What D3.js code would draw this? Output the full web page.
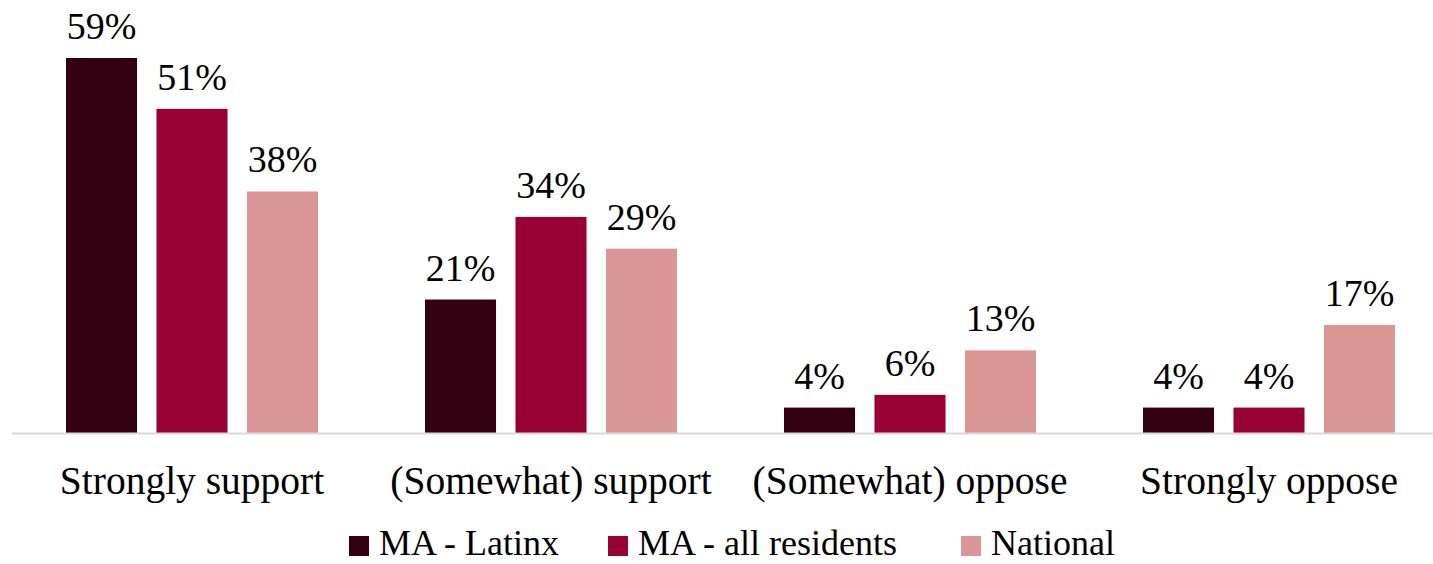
<!DOCTYPE html>
<html>
<head>
<meta charset="utf-8">
<script src="https://cdn.jsdelivr.net/npm/d3@7"></script>
<style>
  html, body { margin: 0; padding: 0; background: #fff; }
  svg { display: block; font-family: "Liberation Serif", serif; }
</style>
</head>
<body>
<svg id="chart" width="1433" height="564"></svg>
<script>
const categories = ["Strongly support", "(Somewhat) support", "(Somewhat) oppose", "Strongly oppose"];
const seriesNames = ["MA - Latinx", "MA - all residents", "National"];
const maLatinx = [59, 21, 4, 4];
const maAll = [51, 34, 6, 4];
const national = [38, 29, 13, 17];
const colors = ["#330012", "#990033", "#d99694"];

const seriesValues = [maLatinx, maAll, national];
const svg = d3.select("#chart");

const x0 = d3.scaleBand().domain(categories).range([12.5, 1448.5]).padding(0);
const groupW = 252;
const x1 = d3.scaleBand().domain(seriesNames).range([0, groupW]).paddingInner(0.215).paddingOuter(0);
const y = d3.scaleLinear().domain([0, 59]).range([433, 58]);

const groups = svg.selectAll("g.cat").data(categories).join("g")
  .attr("class", "cat")
  .attr("transform", d => `translate(${x0(d) + (x0.bandwidth() - groupW) / 2},0)`);

groups.each(function(cat, ci) {
  const g = d3.select(this);
  const rows = seriesNames.map((s, si) => ({ s, si, v: seriesValues[si][ci] }));
  g.selectAll("rect").data(rows).join("rect")
    .attr("x", d => x1(d.s))
    .attr("y", d => y(d.v))
    .attr("width", x1.bandwidth())
    .attr("height", d => y(0) - y(d.v))
    .attr("fill", d => colors[d.si]);
  g.selectAll("text.val").data(rows).join("text")
    .attr("class", "val")
    .attr("x", d => x1(d.s) + x1.bandwidth() / 2)
    .attr("y", d => y(d.v) - 19)
    .attr("text-anchor", "middle")
    .attr("font-size", 38)
    .attr("fill", "#000")
    .text(d => d.v + "%");
});

// category axis
const xAxis = d3.axisBottom(x0).tickSize(0).tickPadding(0);
const axisG = svg.append("g").attr("transform", `translate(0,${y(0)})`).call(xAxis);
axisG.select(".domain").remove();
axisG.selectAll("text")
  .attr("font-family", "Liberation Serif, serif")
  .attr("font-size", 39.5)
  .attr("fill", "#000")
  .attr("dy", 0)
  .attr("y", 61);
svg.append("line")
  .attr("x1", 12).attr("x2", 1433)
  .attr("y1", y(0) + 0.5).attr("y2", y(0) + 0.5)
  .attr("stroke", "#d9d9d9").attr("stroke-width", 2);

// legend
const legendX = [349, 608, 961];
const leg = svg.selectAll("g.leg").data(seriesNames).join("g")
  .attr("class", "leg")
  .attr("transform", (d, i) => `translate(${legendX[i]},0)`);
leg.append("rect").attr("x", 0).attr("y", 536).attr("width", 20).attr("height", 20)
  .attr("fill", (d, i) => colors[i]);
leg.append("text").attr("x", 30).attr("y", 555)
  .attr("font-size", 36).attr("fill", "#000").text(d => d);
</script>
</body>
</html>
